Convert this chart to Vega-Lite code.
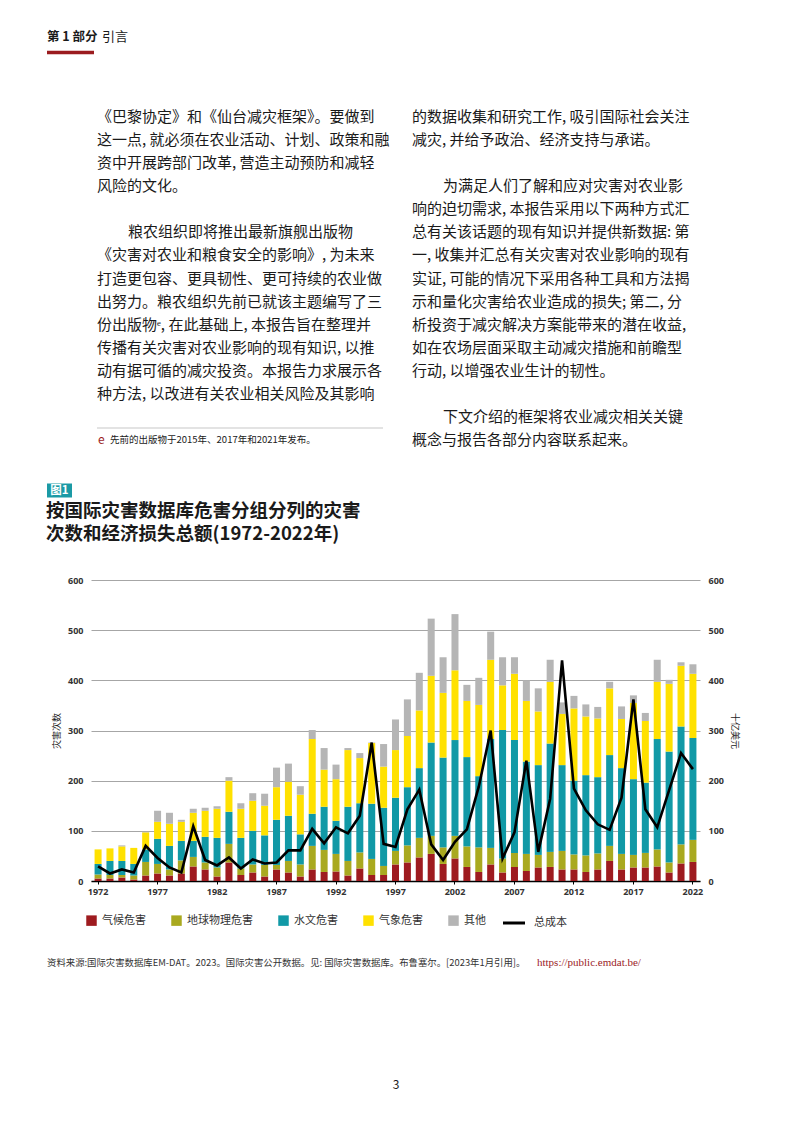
{
  "$schema": "https://vega.github.io/schema/vega-lite/v6.json",
  "width": 793,
  "height": 1122,
  "autosize": {"type": "none"},
  "padding": 0,
  "background": "white",
  "config": {
    "view": {"stroke": null},
    "font": "Noto Sans CJK SC",
    "text": {"font": "Noto Sans CJK SC"}
  },
  "datasets": {
    "灾害": [
      {"年": 1972, "气候危害": 5, "地球物理危害": 8, "水文危害": 21, "气象危害": 29, "其他": 0, "总成本": 29},
      {"年": 1973, "气候危害": 5, "地球物理危害": 7, "水文危害": 28, "气象危害": 25, "其他": 0, "总成本": 15},
      {"年": 1974, "气候危害": 7, "地球物理危害": 5, "水文危害": 28, "气象危害": 29, "其他": 2, "总成本": 23},
      {"年": 1975, "气候危害": 3, "地球物理危害": 8, "水文危害": 23, "气象危害": 32, "其他": 0, "总成本": 17},
      {"年": 1976, "气候危害": 11, "地球物理危害": 27, "水文危害": 25, "气象危害": 34, "其他": 1, "总成本": 70},
      {"年": 1977, "气候危害": 15, "地球物理危害": 19, "水文危害": 50, "气象危害": 34, "其他": 22, "总成本": 46},
      {"年": 1978, "气候危害": 11, "地球物理危害": 12, "水文危害": 47, "气象危害": 44, "其他": 22, "总成本": 27},
      {"年": 1979, "气候危害": 15, "地球物理危害": 26, "水文危害": 39, "气象危害": 38, "其他": 4, "总成本": 17},
      {"年": 1980, "气候危害": 29, "地球物理危害": 19, "水文危害": 32, "气象危害": 56, "其他": 8, "总成本": 109},
      {"年": 1981, "气候危害": 23, "地球物理危害": 14, "水文危害": 51, "气象危害": 52, "其他": 6, "总成本": 42},
      {"年": 1982, "气候危害": 9, "地球物理危害": 18, "水文危害": 59, "气象危害": 58, "其他": 5, "总成本": 31},
      {"年": 1983, "气候危害": 37, "地球物理危害": 37, "水文危害": 64, "气象危害": 62, "其他": 7, "总成本": 47},
      {"年": 1984, "气候危害": 12, "地球物理危害": 13, "水文危害": 61, "气象危害": 58, "其他": 11, "总成本": 25},
      {"年": 1985, "气候危害": 17, "地球物理危害": 16, "水文危害": 67, "气象危害": 60, "其他": 15, "总成本": 43},
      {"年": 1986, "气候危害": 9, "地球物理危害": 23, "水文危害": 59, "气象危害": 59, "其他": 24, "总成本": 35},
      {"年": 1987, "气候危害": 23, "地球物理危害": 9, "水文危害": 90, "气象危害": 65, "其他": 39, "总成本": 37},
      {"年": 1988, "气候危害": 17, "地球物理危害": 23, "水文危害": 90, "气象危害": 68, "其他": 36, "总成本": 61},
      {"年": 1989, "气候危害": 9, "地球物理危害": 24, "水文危害": 60, "气象危害": 79, "其他": 17, "总成本": 61},
      {"年": 1990, "气候危害": 23, "地球物理危害": 47, "水文危害": 64, "气象危害": 149, "其他": 18, "总成本": 104},
      {"年": 1991, "气候危害": 18, "地球物理危害": 44, "水文危害": 86, "气象危害": 74, "其他": 43, "总成本": 75},
      {"年": 1992, "气候危害": 19, "地球物理危害": 35, "水文危害": 66, "气象危害": 83, "其他": 29, "总成本": 107},
      {"年": 1993, "气候危害": 11, "地球物理危害": 29, "水文危害": 108, "气象危害": 113, "其他": 4, "总成本": 95},
      {"年": 1994, "气候危害": 25, "地球物理危害": 32, "水文危害": 98, "气象危害": 90, "其他": 10, "总成本": 130},
      {"年": 1995, "气候危害": 12, "地球物理危害": 32, "水文危害": 110, "气象危害": 121, "其他": 1, "总成本": 276},
      {"年": 1996, "气候危害": 12, "地球物理危害": 18, "水文危害": 116, "气象危害": 82, "其他": 45, "总成本": 74},
      {"年": 1997, "气候危害": 33, "地球物理危害": 27, "水文危害": 106, "气象危害": 95, "其他": 61, "总成本": 68},
      {"年": 1998, "气候危害": 37, "地球物理危害": 34, "水文危害": 116, "气象危害": 102, "其他": 73, "总成本": 143},
      {"年": 1999, "气候危害": 47, "地球物理危害": 39, "水文危害": 139, "气象危害": 115, "其他": 75, "总成本": 182},
      {"年": 2000, "气候危害": 54, "地球物理危害": 36, "水文危害": 186, "气象危害": 133, "其他": 114, "总成本": 73},
      {"年": 2001, "气候危害": 34, "地球物理危害": 33, "水文危害": 179, "气象危害": 129, "其他": 71, "总成本": 42},
      {"年": 2002, "气候危害": 45, "地球物理危害": 45, "水文危害": 191, "气象危害": 139, "其他": 112, "总成本": 78},
      {"年": 2003, "气候危害": 28, "地球物理危害": 41, "水文危害": 178, "气象危害": 112, "其他": 32, "总成本": 103},
      {"年": 2004, "气候危害": 18, "地球物理危害": 49, "水文危害": 142, "气象危害": 142, "其他": 54, "总成本": 188},
      {"年": 2005, "气候危害": 33, "地球物理危害": 33, "水文危害": 217, "气象危害": 158, "其他": 56, "总成本": 300},
      {"年": 2006, "气候危害": 17, "地球物理危害": 28, "水文危害": 256, "气象危害": 89, "其他": 56, "总成本": 45},
      {"年": 2007, "气候危害": 28, "地球物理危害": 28, "水文危害": 225, "气象危害": 132, "其他": 33, "总成本": 97},
      {"年": 2008, "气候危害": 20, "地球物理危害": 34, "水文危害": 184, "气象危害": 121, "其他": 41, "总成本": 240},
      {"年": 2009, "气候危害": 27, "地球物理危害": 25, "水文危害": 179, "气象危害": 107, "其他": 46, "总成本": 58},
      {"年": 2010, "气候危害": 28, "地球物理危害": 30, "水文危害": 216, "气象危害": 123, "其他": 44, "总成本": 164},
      {"年": 2011, "气候危害": 23, "地球物理危害": 37, "水文危害": 171, "气象危害": 102, "其他": 23, "总成本": 440},
      {"年": 2012, "气候危害": 23, "地球物理危害": 30, "水文危害": 147, "气象危害": 144, "其他": 25, "总成本": 184},
      {"年": 2013, "气候危害": 18, "地球物理危害": 33, "水文危害": 160, "气象危害": 117, "其他": 24, "总成本": 141},
      {"年": 2014, "气候危害": 23, "地球物理危害": 32, "水文危害": 152, "气象危害": 117, "其他": 23, "总成本": 113},
      {"年": 2015, "气候危害": 40, "地球物理危害": 30, "水文危害": 181, "气象危害": 133, "其他": 13, "总成本": 102},
      {"年": 2016, "气候危害": 23, "地球物理危害": 31, "水文危害": 171, "气象危害": 98, "其他": 25, "总成本": 166},
      {"年": 2017, "气候危害": 27, "地球物理危害": 25, "水文危害": 151, "气象危害": 152, "其他": 15, "总成本": 362},
      {"年": 2018, "气候危害": 27, "地球物理危害": 29, "水文危害": 140, "气象危害": 123, "其他": 16, "总成本": 143},
      {"年": 2019, "气候危害": 29, "地球物理危害": 34, "水文危害": 220, "气象危害": 114, "其他": 44, "总成本": 107},
      {"年": 2020, "气候危害": 17, "地球物理危害": 20, "水文危害": 221, "气象危害": 135, "其他": 8, "总成本": 181},
      {"年": 2021, "气候危害": 35, "地球物理危害": 38, "水文危害": 235, "气象危害": 121, "其他": 7, "总成本": 255},
      {"年": 2022, "气候危害": 38, "地球物理危害": 44, "水文危害": 203, "气象危害": 128, "其他": 19, "总成本": 223}
    ],
    "类别表": [
      {"类别": "气候危害", "序号": 1},
      {"类别": "地球物理危害", "序号": 2},
      {"类别": "水文危害", "序号": 3},
      {"类别": "气象危害", "序号": 4},
      {"类别": "其他", "序号": 5}
    ],
    "页面文字": [
      {"块": "页眉粗", "栏": "页边", "行": 1, "文字": "第 1 部分"},
      {"块": "页眉细", "栏": "页边", "行": 1, "文字": "引言"},
      {"块": "正文", "栏": "左", "行": 1, "文字": "《巴黎协定》和《仙台减灾框架》。要做到"},
      {"块": "正文", "栏": "左", "行": 2, "文字": "这一点, 就必须在农业活动、计划、政策和融"},
      {"块": "正文", "栏": "左", "行": 3, "文字": "资中开展跨部门改革, 营造主动预防和减轻"},
      {"块": "正文", "栏": "左", "行": 4, "文字": "风险的文化。"},
      {"块": "正文缩进", "栏": "左", "行": 6, "文字": "粮农组织即将推出最新旗舰出版物"},
      {"块": "正文", "栏": "左", "行": 7, "文字": "《灾害对农业和粮食安全的影响》, 为未来"},
      {"块": "正文", "栏": "左", "行": 8, "文字": "打造更包容、更具韧性、更可持续的农业做"},
      {"块": "正文", "栏": "左", "行": 9, "文字": "出努力。粮农组织先前已就该主题编写了三"},
      {"块": "正文", "栏": "左", "行": 10, "文字": "份出版物ᵉ, 在此基础上, 本报告旨在整理并"},
      {"块": "正文", "栏": "左", "行": 11, "文字": "传播有关灾害对农业影响的现有知识, 以推"},
      {"块": "正文", "栏": "左", "行": 12, "文字": "动有据可循的减灾投资。本报告力求展示各"},
      {"块": "正文", "栏": "左", "行": 13, "文字": "种方法, 以改进有关农业相关风险及其影响"},
      {"块": "正文", "栏": "右", "行": 1, "文字": "的数据收集和研究工作, 吸引国际社会关注"},
      {"块": "正文", "栏": "右", "行": 2, "文字": "减灾, 并给予政治、经济支持与承诺。"},
      {"块": "正文缩进", "栏": "右", "行": 4, "文字": "为满足人们了解和应对灾害对农业影"},
      {"块": "正文", "栏": "右", "行": 5, "文字": "响的迫切需求, 本报告采用以下两种方式汇"},
      {"块": "正文", "栏": "右", "行": 6, "文字": "总有关该话题的现有知识并提供新数据: 第"},
      {"块": "正文", "栏": "右", "行": 7, "文字": "一, 收集并汇总有关灾害对农业影响的现有"},
      {"块": "正文", "栏": "右", "行": 8, "文字": "实证, 可能的情况下采用各种工具和方法揭"},
      {"块": "正文", "栏": "右", "行": 9, "文字": "示和量化灾害给农业造成的损失; 第二, 分"},
      {"块": "正文", "栏": "右", "行": 10, "文字": "析投资于减灾解决方案能带来的潜在收益,"},
      {"块": "正文", "栏": "右", "行": 11, "文字": "如在农场层面采取主动减灾措施和前瞻型"},
      {"块": "正文", "栏": "右", "行": 12, "文字": "行动, 以增强农业生计的韧性。"},
      {"块": "正文缩进", "栏": "右", "行": 14, "文字": "下文介绍的框架将农业减灾相关关键"},
      {"块": "正文", "栏": "右", "行": 15, "文字": "概念与报告各部分内容联系起来。"},
      {"块": "脚注标", "栏": "左", "行": 1, "文字": "e"},
      {"块": "脚注", "栏": "左", "行": 1, "文字": "先前的出版物于2015年、2017年和2021年发布。"},
      {"块": "图号", "栏": "页边", "行": 1, "文字": "图1"},
      {"块": "图题", "栏": "页边", "行": 1, "文字": "按国际灾害数据库危害分组分列的灾害"},
      {"块": "图题", "栏": "页边", "行": 2, "文字": "次数和经济损失总额(1972-2022年)"},
      {"块": "来源", "栏": "页边", "行": 1, "文字": "资料来源:国际灾害数据库EM-DAT。2023。国际灾害公开数据。见: 国际灾害数据库。布鲁塞尔。[2023年1月引用]。"},
      {"块": "网址", "栏": "页边", "行": 1, "文字": "https://public.emdat.be/"},
      {"块": "页码", "栏": "页中", "行": 1, "文字": "3"}
    ]
  },
  "layer": [
    {
      "data": {"name": "页面文字"},
      "transform": [{"filter": "datum['块'] === '页眉粗'"}],
      "mark": {"type": "rule", "color": "#9B1C1F", "strokeWidth": 3.5},
      "encoding": {
        "x": {"datum": "起", "type": "nominal", "scale": {"type": "point", "domain": ["起", "止"], "range": [47, 94], "padding": 0}, "axis": null},
        "x2": {"datum": "止"},
        "y": {"field": "行", "type": "quantitative", "scale": {"domain": [1, 2], "range": [52.5, 80]}, "axis": null}
      }
    },
    {
      "data": {"name": "页面文字"},
      "transform": [{"filter": "datum['块'] === '页眉粗'"}],
      "mark": {"type": "text", "align": "left", "baseline": "middle", "fontSize": 12.5, "fontWeight": "bold", "color": "#1a1a1a"},
      "encoding": {
        "text": {"field": "文字"},
        "x": {"field": "栏", "type": "nominal", "scale": {"type": "point", "domain": ["页边"], "range": [47, 47], "padding": 0}, "axis": null},
        "y": {"field": "行", "type": "quantitative", "scale": {"domain": [1, 2], "range": [37, 60]}, "axis": null}
      }
    },
    {
      "data": {"name": "页面文字"},
      "transform": [{"filter": "datum['块'] === '页眉细'"}],
      "mark": {"type": "text", "align": "left", "baseline": "middle", "fontSize": 13, "color": "#1a1a1a"},
      "encoding": {
        "text": {"field": "文字"},
        "x": {"field": "栏", "type": "nominal", "scale": {"type": "point", "domain": ["页边"], "range": [102, 102], "padding": 0}, "axis": null},
        "y": {"field": "行", "type": "quantitative", "scale": {"domain": [1, 2], "range": [37, 60]}, "axis": null}
      }
    },
    {
      "data": {"name": "页面文字"},
      "transform": [{"filter": "datum['块'] === '正文'"}],
      "mark": {"type": "text", "align": "left", "baseline": "middle", "fontSize": 15, "color": "#1a1a1a"},
      "encoding": {
        "text": {"field": "文字"},
        "x": {"field": "栏", "type": "nominal", "scale": {"type": "point", "domain": ["左", "右"], "range": [97, 412], "padding": 0}, "axis": null},
        "y": {"field": "行", "type": "quantitative", "scale": {"domain": [1, 15], "range": [117, 440]}, "axis": null}
      }
    },
    {
      "data": {"name": "页面文字"},
      "transform": [{"filter": "datum['块'] === '正文缩进'"}],
      "mark": {"type": "text", "align": "left", "baseline": "middle", "fontSize": 15, "color": "#1a1a1a"},
      "encoding": {
        "text": {"field": "文字"},
        "x": {"field": "栏", "type": "nominal", "scale": {"type": "point", "domain": ["左", "右"], "range": [128, 443], "padding": 0}, "axis": null},
        "y": {"field": "行", "type": "quantitative", "scale": {"domain": [1, 15], "range": [117, 440]}, "axis": null}
      }
    },
    {
      "data": {"name": "页面文字"},
      "transform": [{"filter": "datum['块'] === '脚注标'"}],
      "mark": {"type": "rule", "color": "#b9b9b9", "strokeWidth": 0.8},
      "encoding": {
        "x": {"datum": "起", "type": "nominal", "scale": {"type": "point", "domain": ["起", "止"], "range": [97, 383], "padding": 0}, "axis": null},
        "x2": {"datum": "止"},
        "y": {"field": "行", "type": "quantitative", "scale": {"domain": [1, 2], "range": [428, 450]}, "axis": null}
      }
    },
    {
      "data": {"name": "页面文字"},
      "transform": [{"filter": "datum['块'] === '脚注标'"}],
      "mark": {"type": "text", "align": "left", "baseline": "middle", "fontSize": 12, "color": "#9B1C1F"},
      "encoding": {
        "text": {"field": "文字"},
        "x": {"field": "栏", "type": "nominal", "scale": {"type": "point", "domain": ["左"], "range": [98, 98], "padding": 0}, "axis": null},
        "y": {"field": "行", "type": "quantitative", "scale": {"domain": [1, 2], "range": [440, 460]}, "axis": null}
      }
    },
    {
      "data": {"name": "页面文字"},
      "transform": [{"filter": "datum['块'] === '脚注'"}],
      "mark": {"type": "text", "align": "left", "baseline": "middle", "fontSize": 9.5, "color": "#1a1a1a"},
      "encoding": {
        "text": {"field": "文字"},
        "x": {"field": "栏", "type": "nominal", "scale": {"type": "point", "domain": ["左"], "range": [110, 110], "padding": 0}, "axis": null},
        "y": {"field": "行", "type": "quantitative", "scale": {"domain": [1, 2], "range": [440, 460]}, "axis": null}
      }
    },
    {
      "data": {"name": "页面文字"},
      "transform": [{"filter": "datum['块'] === '图号'"}],
      "mark": {"type": "point", "shape": "M-1,-0.56H1V0.56H-1Z", "filled": true, "color": "#1B9AA5", "size": 625, "opacity": 1},
      "encoding": {
        "x": {"field": "栏", "type": "nominal", "scale": {"type": "point", "domain": ["页边"], "range": [59.5, 59.5], "padding": 0}, "axis": null},
        "y": {"field": "行", "type": "quantitative", "scale": {"domain": [1, 2], "range": [490.5, 510]}, "axis": null}
      }
    },
    {
      "data": {"name": "页面文字"},
      "transform": [{"filter": "datum['块'] === '图号'"}],
      "mark": {"type": "text", "align": "center", "baseline": "middle", "fontSize": 11.5, "fontWeight": "bold", "color": "white"},
      "encoding": {
        "text": {"field": "文字"},
        "x": {"field": "栏", "type": "nominal", "scale": {"type": "point", "domain": ["页边"], "range": [59.5, 59.5], "padding": 0}, "axis": null},
        "y": {"field": "行", "type": "quantitative", "scale": {"domain": [1, 2], "range": [490.5, 510]}, "axis": null}
      }
    },
    {
      "data": {"name": "页面文字"},
      "transform": [{"filter": "datum['块'] === '图题'"}],
      "mark": {"type": "text", "align": "left", "baseline": "middle", "fontSize": 18.5, "fontWeight": "bold", "color": "#1a1a1a"},
      "encoding": {
        "text": {"field": "文字"},
        "x": {"field": "栏", "type": "nominal", "scale": {"type": "point", "domain": ["页边"], "range": [46, 46], "padding": 0}, "axis": null},
        "y": {"field": "行", "type": "quantitative", "scale": {"domain": [1, 2], "range": [510.5, 534]}, "axis": null}
      }
    },
    {
      "data": {"name": "页面文字"},
      "transform": [{"filter": "datum['块'] === '来源'"}],
      "mark": {"type": "text", "align": "left", "baseline": "middle", "fontSize": 9.4, "color": "#333333"},
      "encoding": {
        "text": {"field": "文字"},
        "x": {"field": "栏", "type": "nominal", "scale": {"type": "point", "domain": ["页边"], "range": [47, 47], "padding": 0}, "axis": null},
        "y": {"field": "行", "type": "quantitative", "scale": {"domain": [1, 2], "range": [963, 980]}, "axis": null}
      }
    },
    {
      "data": {"name": "页面文字"},
      "transform": [{"filter": "datum['块'] === '网址'"}],
      "mark": {"type": "text", "align": "left", "baseline": "middle", "fontSize": 11, "color": "#9B1C1F", "font": "Liberation Serif"},
      "encoding": {
        "text": {"field": "文字"},
        "x": {"field": "栏", "type": "nominal", "scale": {"type": "point", "domain": ["页边"], "range": [537, 537], "padding": 0}, "axis": null},
        "y": {"field": "行", "type": "quantitative", "scale": {"domain": [1, 2], "range": [963, 980]}, "axis": null}
      }
    },
    {
      "data": {"name": "页面文字"},
      "transform": [{"filter": "datum['块'] === '页码'"}],
      "mark": {"type": "text", "align": "center", "baseline": "middle", "fontSize": 12, "color": "#1a1a1a"},
      "encoding": {
        "text": {"field": "文字"},
        "x": {"field": "栏", "type": "nominal", "scale": {"type": "point", "domain": ["页中"], "range": [396, 396], "padding": 0}, "axis": null},
        "y": {"field": "行", "type": "quantitative", "scale": {"domain": [1, 2], "range": [1085, 1100]}, "axis": null}
      }
    },
    {
      "data": {"name": "灾害"},
      "layer": [
        {
          "transform": [
            {"fold": ["气候危害", "地球物理危害", "水文危害", "气象危害", "其他"], "as": ["类别", "次数"]},
            {"lookup": "类别", "from": {"data": {"name": "类别表"}, "key": "类别", "fields": ["序号"]}}
          ],
          "mark": {"type": "bar"},
          "encoding": {
            "x": {
              "field": "年", "type": "ordinal",
              "scale": {"range": [91, 700], "paddingInner": 0.41, "paddingOuter": 0.3},
              "axis": {
                "orient": "bottom", "offset": -241, "title": null,
                "values": [1972, 1977, 1982, 1987, 1992, 1997, 2002, 2007, 2012, 2017, 2022],
                "labelAngle": 0, "labelFontSize": 9, "labelFontWeight": "bold", "labelColor": "#333333", "labelFont": "Noto Sans",
                "labelPadding": 3, "tickSize": 3, "tickColor": "#000000", "tickWidth": 1,
                "domainColor": "#000000", "domainWidth": 1.5, "grid": false
              }
            },
            "y": {
              "field": "次数", "type": "quantitative", "stack": "zero",
              "scale": {"domain": [0, 600], "range": [881, 580], "nice": false},
              "axis": {
                "orient": "left", "offset": -91, "title": "灾害次数",
                "values": [0, 100, 200, 300, 400, 500, 600],
                "labelFontSize": 9, "labelFontWeight": "bold", "labelColor": "#333333", "labelFont": "Noto Sans",
                "labelPadding": 8, "ticks": false, "domain": false,
                "grid": true, "gridColor": "#a6a6a6", "gridWidth": 1,
                "titleFontSize": 9, "titleFontWeight": "normal", "titleColor": "#1a1a1a", "titlePadding": 6
              }
            },
            "color": {
              "field": "类别", "type": "nominal",
              "scale": {
                "domain": ["气候危害", "地球物理危害", "水文危害", "气象危害", "其他"],
                "range": ["#9E1B1F", "#A9A91F", "#1199A6", "#FFE100", "#B5B5B5"]
              },
              "legend": {
                "orient": "none", "legendX": 86, "legendY": 915, "direction": "horizontal",
                "title": null, "symbolType": "square", "symbolSize": 110, "symbolStrokeWidth": 0,
                "labelFontSize": 11, "labelOffset": 5, "columnPadding": 25, "labelColor": "#333333"
              }
            },
            "order": {"field": "序号", "type": "quantitative"}
          }
        },
        {
          "mark": {"type": "line", "strokeWidth": 2.6, "strokeJoin": "miter"},
          "encoding": {
            "x": {"field": "年", "type": "ordinal"},
            "y": {
              "field": "总成本", "type": "quantitative",
              "scale": {"domain": [0, 600], "range": [881, 580], "nice": false},
              "axis": {
                "orient": "right", "offset": -94, "title": "十亿美元",
                "values": [0, 100, 200, 300, 400, 500, 600],
                "labelFontSize": 9, "labelFontWeight": "bold", "labelColor": "#333333", "labelFont": "Noto Sans",
                "labelPadding": 9, "ticks": false, "domain": false, "grid": false,
                "titleFontSize": 9, "titleFontWeight": "normal", "titleColor": "#1a1a1a", "titlePadding": 6
              }
            },
            "stroke": {
              "datum": "总成本", "type": "nominal",
              "scale": {"range": ["#000000"]},
              "legend": {
                "orient": "none", "legendX": 507, "legendY": 916, "direction": "horizontal",
                "title": null, "symbolType": "M-2,0H2", "symbolStrokeWidth": 3, "symbolSize": 121,
                "labelFontSize": 11, "labelOffset": 13, "labelColor": "#333333"
              }
            }
          }
        }
      ],
      "resolve": {"scale": {"y": "independent"}}
    }
  ],
  "resolve": {"scale": {"x": "independent", "y": "independent"}}
}
